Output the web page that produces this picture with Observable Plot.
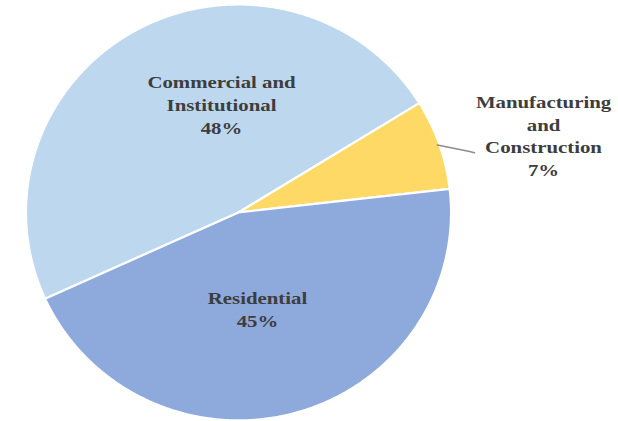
<!DOCTYPE html>
<html><head><meta charset="utf-8">
<script src="https://cdn.jsdelivr.net/npm/d3@7"></script>
<script src="https://cdn.jsdelivr.net/npm/@observablehq/plot@0.6"></script>
<style>body{margin:0;background:#fff}#chart svg{display:block}</style>
</head><body><div id="chart"></div>
<script>
// ---- data ----
const categories = ["Commercial and Institutional", "Manufacturing and Construction", "Residential"];
const shares = [48, 7, 45];
const labelLines = ["Commercial and\nInstitutional", "Manufacturing\nand\nConstruction", "Residential"];
const colors = ["#BDD7EE", "#FFD966", "#8EA9DB"];

// ---- layout (unit-radius pie coordinates, angles clockwise from 12 o'clock, y downward) ----
const startAngle = 245.5;
const xDomain = [-1.12, 1.788];
const yDomain = [-1.019, 1.005];
const labelPlacement = [{angle: 351.3, r: 0.529}, {angle: 75.4, r: 1.483}, {angle: 169, r: 0.468}];
const leaderPolar = [{dAngle: 0, r: 0.99}, {angle: 74.8, r: 1.121}, {angle: 75.5, r: 1.147}];

const rad = a => a * Math.PI / 180;
const polar = (a, r) => ({x: r * Math.sin(rad(a)), y: -r * Math.cos(rad(a))});

const total = d3.sum(shares);
const slicePts = [];
const midAngles = [];
let a0 = startAngle;
categories.forEach((c, i) => {
  const span = shares[i] / total * 360;
  midAngles.push(a0 + span / 2);
  slicePts.push({name: c, x: 0, y: 0});
  const n = Math.ceil(span * 2);
  for (let k = 0; k <= n; k++) slicePts.push({name: c, ...polar(a0 + span * k / n, 1)});
  slicePts.push({name: c, x: 0, y: 0});
  a0 += span;
});

const labels = categories.map((c, i) => ({
  text: labelLines[i] + "\n" + shares[i] + "%",
  ...polar(labelPlacement[i].angle, labelPlacement[i].r)
}));

const leader = leaderPolar.map((p, k) => k === 0 ? polar(midAngles[1] + p.dAngle, p.r) : polar(p.angle, p.r));

const chart = Plot.plot({
  width: 618,
  height: 421,
  margin: 0,
  x: {domain: xDomain, axis: null},
  y: {domain: yDomain, reverse: true, axis: null},
  color: {domain: categories, range: colors},
  style: {background: "#fff"},
  marks: [
    Plot.line(slicePts, {x: "x", y: "y", z: "name", fill: "name", stroke: "#fff", strokeWidth: 2.2, strokeLinejoin: "round", curve: "linear"}),
    Plot.line(leader, {x: "x", y: "y", stroke: "#8c8c8c", strokeWidth: 1.5, curve: "linear"}),
    Plot.text(labels, {x: "x", y: "y", text: "text", fontFamily: "Liberation Serif", fontWeight: "bold", fontSize: 17.5, lineHeight: 1.3, fill: "#3d3d3d", textAnchor: "middle", lineAnchor: "middle"})
  ]
});

chart.querySelectorAll("text").forEach(t => {
  const tr = t.getAttribute("transform");
  if (tr) t.setAttribute("transform", tr + " scale(1.19,1)");
});

document.getElementById("chart").appendChild(chart);
</script>
</body></html>
